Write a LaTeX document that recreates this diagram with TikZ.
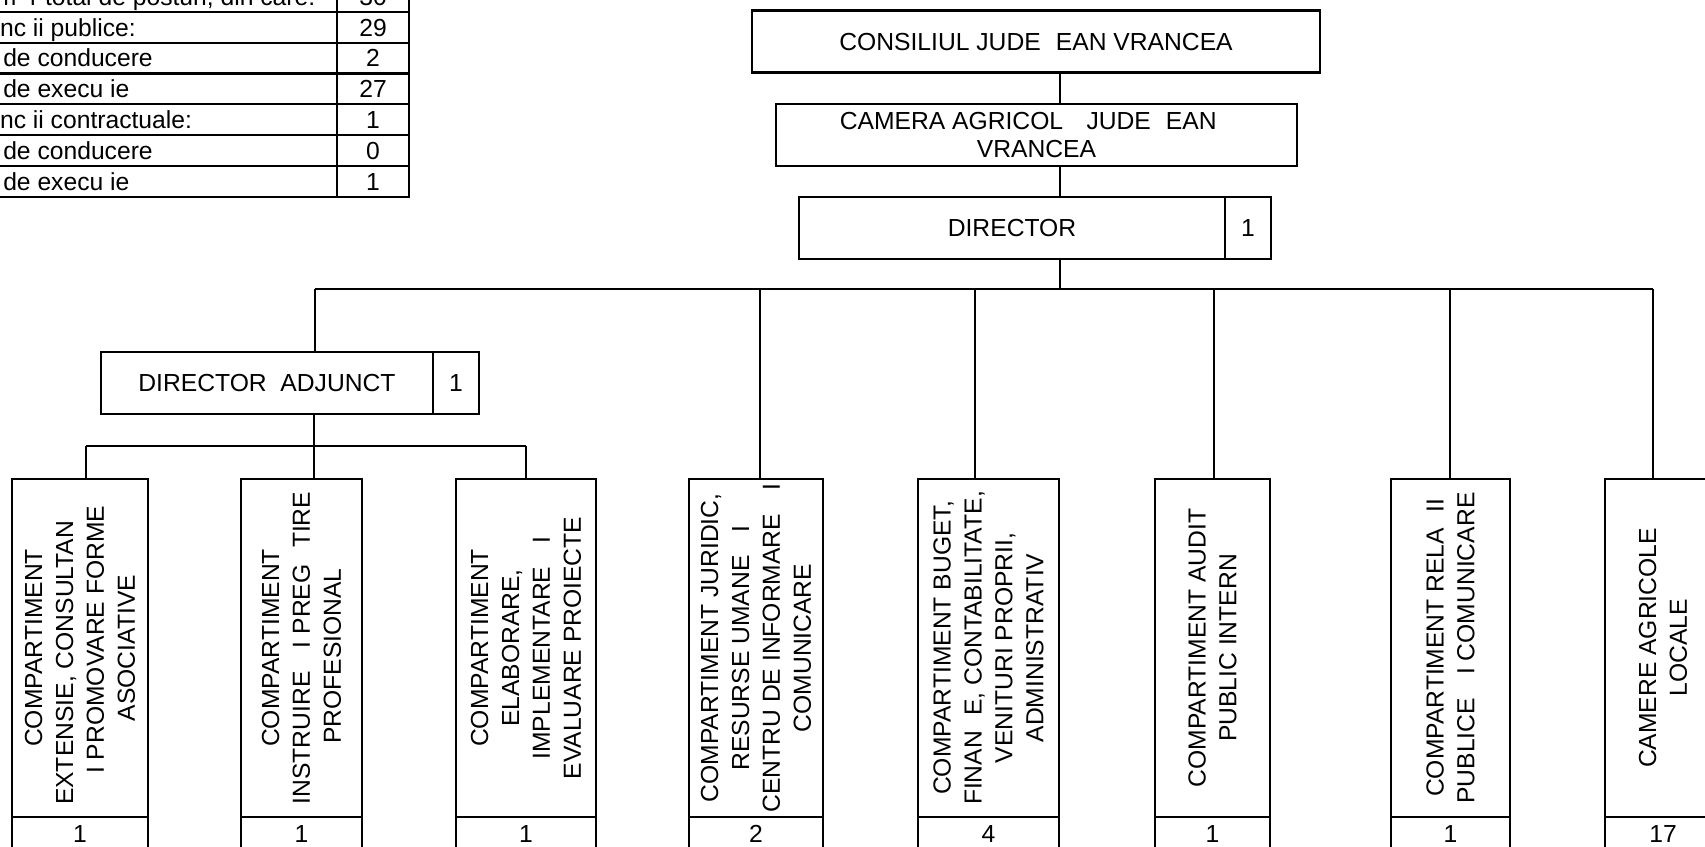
\documentclass[tikz,border=0pt]{standalone}
\usepackage{fontspec}
\setmainfont{Liberation Sans}
\begin{document}
\begin{tikzpicture}[x=0.75pt,y=-0.75pt,
  pbox/.style 2 args={minimum width=#1*0.75pt, minimum height=#2*0.75pt},
  box/.style={draw, line width=2.2pt, inner sep=0pt, align=center},
  conn/.style={line width=1.6pt},
  txt/.style={font=\fontsize{18.5}{21.5}\selectfont, inner sep=0pt, align=center},
  vtxt/.style={font=\fontsize{18.5}{23.2}\selectfont, inner sep=0pt, align=center, rotate=90},
  ttxt/.style={font=\fontsize{18.5}{21.5}\selectfont, inner sep=0pt, text height=13.3pt, text depth=0pt},
  tline/.style={line width=1.6pt}]
\fill[white] (0,0) rectangle (1705,846);
\useasboundingbox (0,0) rectangle (1705,846);

% ---------- table (top left) ----------
\draw[tline] (-60,-19.2) rectangle (409,197.1);
\foreach \yy in {11.7,42.6,73.5,104.4,135.3,166.2} \draw[tline] (-60,\yy) -- (409,\yy);
\draw[tline] (337,-19.2) -- (337,197.1);
\node[ttxt, anchor=west] (t1) at (-36,-3.75) {Num\phantom{a}r total de posturi, din care:};
\node[ttxt, anchor=west] (t2) at (-29,27.15) {Func\phantom{t}ii publice:};
\node[ttxt, anchor=west] (t3) at (3,58.05) {de conducere};
\node[ttxt, anchor=west] (t4) at (3,88.95) {de execu\phantom{t}ie};
\node[ttxt, anchor=west] (t5) at (-29,119.85) {Func\phantom{t}ii contractuale:};
\node[ttxt, anchor=west] (t6) at (3,150.75) {de conducere};
\node[ttxt, anchor=west] (t7) at (3,181.65) {de execu\phantom{t}ie};
\node[ttxt] (n1) at (373,-3.75) {30};
\node[ttxt] (n2) at (373,27.15) {29};
\node[ttxt] (n3) at (373,58.05) {2};
\node[ttxt] (n4) at (373,88.95) {27};
\node[ttxt] (n5) at (373,119.85) {1};
\node[ttxt] (n6) at (373,150.75) {0};
\node[ttxt] (n7) at (373,181.65) {1};

% ---------- top chain ----------
\node[box, txt, pbox={568}{62}] (cons) at (1036,41.7) {CONSILIUL JUDE\phantom{T}EAN VRANCEA};
\node[box, txt, pbox={521}{62}] (cam) at (1036.5,135) {CAMERA AGRICOL\phantom{A} JUDE\phantom{T}EAN\phantom{A}\\VRANCEA};
\node[box, txt, pbox={426}{62}] (dirL) at (1012,228) {DIRECTOR};
\node[box, txt, pbox={46}{62}] (dirR) at (1248,228) {1};

\node[box, txt, pbox={332}{62}] (adjL) at (267,383) {DIRECTOR\ \ ADJUNCT};
\node[box, txt, pbox={46}{62}] (adjR) at (456,383) {1};

% ---------- bus coordinates ----------
\coordinate (k1) at (1060,289);
\coordinate (busL) at (315,289);
\coordinate (busR) at (1653,289);
\coordinate (d4) at (760,289);
\coordinate (d5) at (975,289);
\coordinate (d6) at (1214,289);
\coordinate (d7) at (1450,289);
\coordinate (la) at (314,446);
\coordinate (lbL) at (86,446);
\coordinate (lbR) at (526,446);

% ---------- bottom boxes ----------
\node[box, pbox={136}{338}] (b1) at (80,648) {};
\node[box, pbox={121}{338}] (b2) at (301.5,648) {};
\node[box, pbox={140}{338}] (b3) at (526,648) {};
\node[box, pbox={134}{338}] (b4) at (756,648) {};
\node[box, pbox={141}{338}] (b5) at (988.5,648) {};
\node[box, pbox={115}{338}] (b6) at (1212.5,648) {};
\node[box, pbox={119}{338}] (b7) at (1450.5,648) {};
\node[box, pbox={116}{338}] (b8) at (1663,648) {};

\node[box, txt, pbox={136}{34}] (b1n) at (80,834) {1};
\node[box, txt, pbox={121}{34}] (b2n) at (301.5,834) {1};
\node[box, txt, pbox={140}{34}] (b3n) at (526,834) {1};
\node[box, txt, pbox={134}{34}] (b4n) at (756,834) {2};
\node[box, txt, pbox={141}{34}] (b5n) at (988.5,834) {4};
\node[box, txt, pbox={115}{34}] (b6n) at (1212.5,834) {1};
\node[box, txt, pbox={119}{34}] (b7n) at (1450.5,834) {1};
\node[box, txt, pbox={116}{34}] (b8n) at (1663,834) {17};

\node[vtxt] (b1t) at (b1.center) {COMPARTIMENT\\EXTENSIE, CONSULTAN\phantom{TA}\\\phantom{S}I PROMOVARE FORME\\ASOCIATIVE};
\node[vtxt] (b2t) at (b2.center) {COMPARTIMENT\\INSTRUIRE \phantom{S}I PREG\phantom{A}TIRE\\PROFESIONAL\phantom{A}};
\node[vtxt] (b3t) at (b3.center) {COMPARTIMENT\\ELABORARE,\\IMPLEMENTARE \phantom{S}I\\EVALUARE PROIECTE};
\node[vtxt] (b4t) at (b4.center) {COMPARTIMENT JURIDIC,\\RESURSE UMANE \phantom{S}I\\CENTRU DE INFORMARE \phantom{S}I\\COMUNICARE};
\node[vtxt] (b5t) at (b5.center) {COMPARTIMENT BUGET,\\FINAN\phantom{T}E, CONTABILITATE,\\VENITURI PROPRII,\\ADMINISTRATIV};
\node[vtxt] (b6t) at (b6.center) {COMPARTIMENT AUDIT\\PUBLIC INTERN};
\node[vtxt] (b7t) at (b7.center) {COMPARTIMENT RELA\phantom{T}II\\PUBLICE \phantom{S}I COMUNICARE};
\node[vtxt] (b8t) at (b8.center) {CAMERE AGRICOLE\\LOCALE};

% ---------- connectors ----------
\draw[conn] (cons.south -| k1) -- (cam.north -| k1);
\draw[conn] (cam.south -| k1) -- (dirL.north -| k1);
\draw[conn] (dirL.south -| k1) -- (k1);
\draw[conn] (busL) -- (busR);
\draw[conn] (busL) -- (adjL.north -| busL);
\draw[conn] (d4) -- (b4.north -| d4);
\draw[conn] (d5) -- (b5.north -| d5);
\draw[conn] (d6) -- (b6.north -| d6);
\draw[conn] (d7) -- (b7.north -| d7);
\draw[conn] (busR) -- (b8.north -| busR);
\draw[conn] (adjL.south -| la) -- (la);
\draw[conn] (lbL) -- (lbR);
\draw[conn] (lbL) -- (b1.north -| lbL);
\draw[conn] (la) -- (b2.north -| la);
\draw[conn] (lbR) -- (b3.north -| lbR);
\end{tikzpicture}
\end{document}
